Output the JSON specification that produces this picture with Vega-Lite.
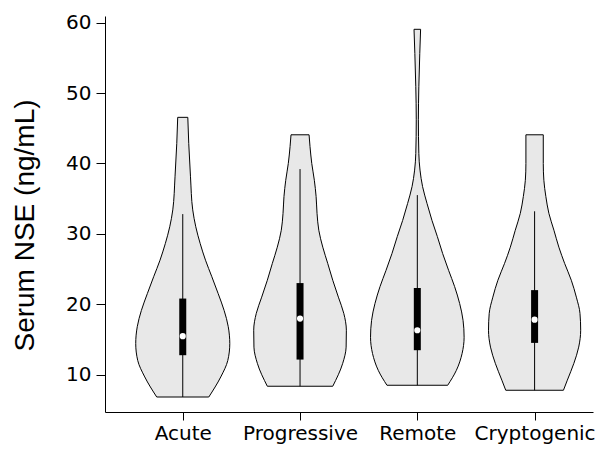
{
  "$schema": "https://vega.github.io/schema/vega-lite/v6.json",
  "width": 488,
  "height": 396,
  "autosize": {"type": "none"},
  "padding": {"left": 105, "top": 16, "right": 20, "bottom": 40},
  "background": "white",
  "config": {"view": {"stroke": null}},
  "datasets": {
    "violin": [
      {"group": "Acute", "y": 46.55, "w": 0.043},
      {"group": "Acute", "y": 42.85, "w": 0.051},
      {"group": "Acute", "y": 38.1, "w": 0.066},
      {"group": "Acute", "y": 33.4, "w": 0.085},
      {"group": "Acute", "y": 31.0, "w": 0.111},
      {"group": "Acute", "y": 28.6, "w": 0.149},
      {"group": "Acute", "y": 26.25, "w": 0.194},
      {"group": "Acute", "y": 23.9, "w": 0.248},
      {"group": "Acute", "y": 21.5, "w": 0.302},
      {"group": "Acute", "y": 19.1, "w": 0.353},
      {"group": "Acute", "y": 16.8, "w": 0.388},
      {"group": "Acute", "y": 14.4, "w": 0.401},
      {"group": "Acute", "y": 12.0, "w": 0.384},
      {"group": "Acute", "y": 9.66, "w": 0.324},
      {"group": "Acute", "y": 6.81, "w": 0.222},
      {"group": "Progressive", "y": 44.07, "w": 0.077},
      {"group": "Progressive", "y": 42.4, "w": 0.085},
      {"group": "Progressive", "y": 40.0, "w": 0.1},
      {"group": "Progressive", "y": 37.6, "w": 0.122},
      {"group": "Progressive", "y": 35.3, "w": 0.137},
      {"group": "Progressive", "y": 32.9, "w": 0.145},
      {"group": "Progressive", "y": 30.5, "w": 0.16},
      {"group": "Progressive", "y": 28.1, "w": 0.194},
      {"group": "Progressive", "y": 25.8, "w": 0.236},
      {"group": "Progressive", "y": 23.4, "w": 0.279},
      {"group": "Progressive", "y": 21.0, "w": 0.327},
      {"group": "Progressive", "y": 18.7, "w": 0.373},
      {"group": "Progressive", "y": 16.3, "w": 0.395},
      {"group": "Progressive", "y": 13.9, "w": 0.393},
      {"group": "Progressive", "y": 11.6, "w": 0.364},
      {"group": "Progressive", "y": 8.34, "w": 0.279},
      {"group": "Remote", "y": 59.06, "w": 0.028},
      {"group": "Remote", "y": 55.6, "w": 0.021},
      {"group": "Remote", "y": 50.9, "w": 0.013},
      {"group": "Remote", "y": 46.2, "w": 0.009},
      {"group": "Remote", "y": 41.4, "w": 0.013},
      {"group": "Remote", "y": 39.05, "w": 0.023},
      {"group": "Remote", "y": 36.7, "w": 0.045},
      {"group": "Remote", "y": 34.3, "w": 0.083},
      {"group": "Remote", "y": 31.9, "w": 0.125},
      {"group": "Remote", "y": 29.6, "w": 0.171},
      {"group": "Remote", "y": 27.2, "w": 0.216},
      {"group": "Remote", "y": 24.8, "w": 0.267},
      {"group": "Remote", "y": 22.5, "w": 0.318},
      {"group": "Remote", "y": 20.1, "w": 0.361},
      {"group": "Remote", "y": 17.7, "w": 0.39},
      {"group": "Remote", "y": 15.3, "w": 0.399},
      {"group": "Remote", "y": 13.0, "w": 0.382},
      {"group": "Remote", "y": 10.6, "w": 0.333},
      {"group": "Remote", "y": 8.48, "w": 0.259},
      {"group": "Cryptogenic", "y": 44.07, "w": 0.074},
      {"group": "Cryptogenic", "y": 40.0, "w": 0.074},
      {"group": "Cryptogenic", "y": 37.6, "w": 0.079},
      {"group": "Cryptogenic", "y": 35.3, "w": 0.096},
      {"group": "Cryptogenic", "y": 32.9, "w": 0.122},
      {"group": "Cryptogenic", "y": 30.5, "w": 0.165},
      {"group": "Cryptogenic", "y": 28.1, "w": 0.207},
      {"group": "Cryptogenic", "y": 25.8, "w": 0.256},
      {"group": "Cryptogenic", "y": 23.4, "w": 0.313},
      {"group": "Cryptogenic", "y": 21.0, "w": 0.356},
      {"group": "Cryptogenic", "y": 18.7, "w": 0.387},
      {"group": "Cryptogenic", "y": 16.3, "w": 0.393},
      {"group": "Cryptogenic", "y": 13.9, "w": 0.376},
      {"group": "Cryptogenic", "y": 11.6, "w": 0.335},
      {"group": "Cryptogenic", "y": 9.2, "w": 0.279},
      {"group": "Cryptogenic", "y": 7.77, "w": 0.246}
    ],
    "stats": [
      {"group": "Acute", "lo": 6.81, "q1": 12.75, "med": 15.45, "q3": 20.8, "hi": 32.8},
      {"group": "Progressive", "lo": 8.34, "q1": 12.13, "med": 17.96, "q3": 23.0, "hi": 39.2},
      {"group": "Remote", "lo": 8.48, "q1": 13.46, "med": 16.3, "q3": 22.3, "hi": 35.5},
      {"group": "Cryptogenic", "lo": 7.77, "q1": 14.5, "med": 17.8, "q3": 22.0, "hi": 33.2}
    ]
  },
  "layer": [
    {
      "data": {"name": "violin"},
      "transform": [
        {"calculate": "indexof(['Acute','Progressive','Remote','Cryptogenic'], datum.group) + 1", "as": "idx"},
        {"calculate": "datum.idx - datum.w", "as": "left"},
        {"calculate": "datum.idx + datum.w", "as": "right"}
      ],
      "mark": {"type": "area", "orient": "horizontal", "interpolate": "monotone", "fill": "#e8e8e8", "stroke": "black", "strokeWidth": 1},
      "encoding": {
        "detail": {"field": "group"},
        "y": {"field": "y", "type": "quantitative", "scale": {"domain": [4.68, 60.95], "nice": false, "zero": false},
          "axis": {"title": "Serum NSE (ng/mL)", "values": [10, 20, 30, 40, 50, 60], "grid": false,
            "domainColor": "black", "tickColor": "black", "tickSize": 9, "labelColor": "black",
            "labelFont": "DejaVu Sans", "labelFontSize": 20, "labelPadding": 5,
            "titleFont": "Liberation Sans", "titleFontSize": 28, "titleFontWeight": "normal", "titleColor": "black",
            "titleAngle": 270, "titleAlign": "center", "titleBaseline": "alphabetic", "titleX": -72, "titleY": 209}},
        "x": {"field": "left", "type": "quantitative", "scale": {"domain": [0.337, 4.498], "nice": false, "zero": false},
          "axis": {"title": null, "values": [1, 2, 3, 4], "grid": false,
            "labelExpr": "['', 'Acute', 'Progressive', 'Remote', 'Cryptogenic'][datum.value]",
            "domainColor": "black", "tickColor": "black", "tickSize": 8, "labelColor": "black",
            "labelFont": "DejaVu Sans", "labelFontSize": 20, "labelPadding": 3}},
        "x2": {"field": "right"}
      }
    },
    {
      "data": {"name": "stats"},
      "transform": [
        {"calculate": "indexof(['Acute','Progressive','Remote','Cryptogenic'], datum.group) + 1", "as": "idx"}
      ],
      "mark": {"type": "rule", "stroke": "black", "strokeWidth": 1},
      "encoding": {
        "x": {"field": "idx", "type": "quantitative"},
        "y": {"field": "lo", "type": "quantitative"},
        "y2": {"field": "hi"}
      }
    },
    {
      "data": {"name": "stats"},
      "transform": [
        {"calculate": "indexof(['Acute','Progressive','Remote','Cryptogenic'], datum.group) + 1", "as": "idx"}
      ],
      "mark": {"type": "rule", "stroke": "black", "strokeWidth": 7, "strokeCap": "butt"},
      "encoding": {
        "x": {"field": "idx", "type": "quantitative"},
        "y": {"field": "q1", "type": "quantitative"},
        "y2": {"field": "q3"}
      }
    },
    {
      "data": {"name": "stats"},
      "transform": [
        {"calculate": "indexof(['Acute','Progressive','Remote','Cryptogenic'], datum.group) + 1", "as": "idx"}
      ],
      "mark": {"type": "point", "filled": true, "fill": "white", "stroke": null, "opacity": 1, "size": 38, "shape": "circle"},
      "encoding": {
        "x": {"field": "idx", "type": "quantitative"},
        "y": {"field": "med", "type": "quantitative"}
      }
    }
  ]
}
